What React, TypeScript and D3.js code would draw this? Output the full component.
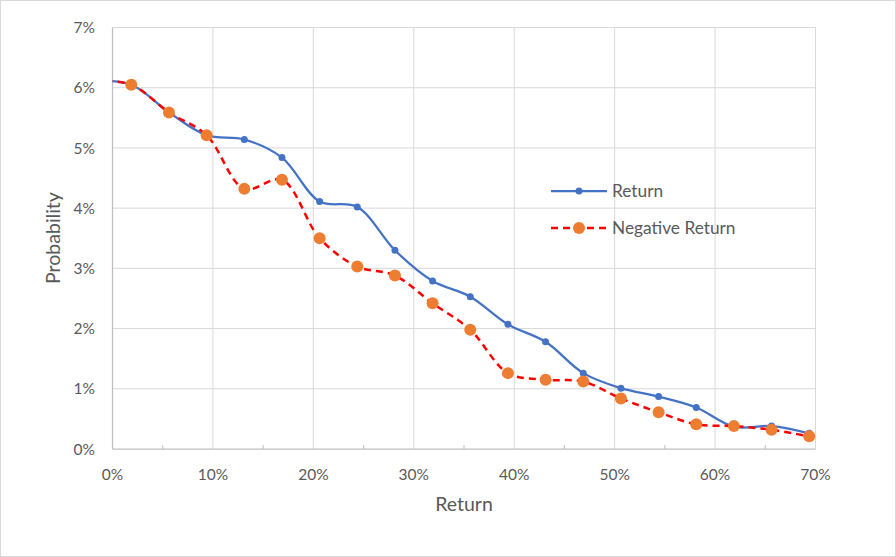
import React from "react";
import * as d3 from "d3";

const xValues = [-1.875, 1.875, 5.625, 9.375, 13.125, 16.875, 20.625, 24.375, 28.125, 31.875, 35.625, 39.375, 43.125, 46.875, 50.625, 54.375, 58.125, 61.875, 65.625, 69.375];
const returnValues = [6.12, 6.05, 5.59, 5.21, 5.14, 4.84, 4.11, 4.02, 3.30, 2.79, 2.53, 2.07, 1.78, 1.26, 1.01, 0.87, 0.69, 0.37, 0.38, 0.26];
const negReturnValues = [6.12, 6.05, 5.59, 5.21, 4.32, 4.47, 3.50, 3.03, 2.88, 2.42, 1.98, 1.26, 1.15, 1.12, 0.84, 0.61, 0.41, 0.38, 0.32, 0.21];
const xTicks = [0, 10, 20, 30, 40, 50, 60, 70];
const xMinorTicks = [5, 15, 25, 35, 45, 55, 65];
const yTicks = [0, 1, 2, 3, 4, 5, 6, 7];
const seriesNames = ["Return", "Negative Return"];

const W = 896, H = 557;
const M = { left: 112.5, right: 815.5, top: 27.5, bottom: 449 };
const FONT = "Lato, 'Open Sans', sans-serif";
const TXT = "#595959";

export default function App() {
  const x = d3.scaleLinear().domain([0, 70]).range([M.left, M.right]);
  const y = d3.scaleLinear().domain([0, 7]).range([M.bottom, M.top]);
  const line = d3.line<number>()
    .x((_, i) => x(xValues[i]))
    .y((d) => y(d))
    .curve(d3.curveCatmullRom.alpha(0.5));
  const pts = (vals: number[]) => vals.map((v, i) => ({ x: x(xValues[i]), y: y(v) })).filter((p, i) => xValues[i] >= 0);

  return (
    <svg width={W} height={H} style={{ position: "absolute", left: 0, top: 0 }}>
      <rect x={0.5} y={0.5} width={W - 1} height={H - 1} fill="#fff" stroke="#D9D9D9" />
      <defs>
        <clipPath id="plot">
          <rect x={M.left} y={M.top - 10} width={M.right - M.left + 10} height={M.bottom - M.top + 20} />
        </clipPath>
      </defs>
      {yTicks.slice(1).map((t) => (
        <line key={"hy" + t} x1={M.left} x2={M.right} y1={y(t)} y2={y(t)} stroke="#D9D9D9" strokeWidth={1} />
      ))}
      {xTicks.slice(1).map((t) => (
        <line key={"vx" + t} x1={x(t)} x2={x(t)} y1={M.top} y2={M.bottom} stroke="#D9D9D9" strokeWidth={1} />
      ))}
      <line x1={M.left} x2={M.left} y1={M.top} y2={M.bottom} stroke="#BFBFBF" strokeWidth={1.25} />
      <line x1={M.left} x2={M.right} y1={M.bottom} y2={M.bottom} stroke="#BFBFBF" strokeWidth={1.25} />
      {xMinorTicks.map((t) => (
        <line key={"mt" + t} x1={x(t)} x2={x(t)} y1={M.bottom} y2={M.bottom - 4} stroke="#BFBFBF" strokeWidth={1} />
      ))}
      {yTicks.map((t) => (
        <text key={"yl" + t} x={95} y={y(t)} dy="0.36em" textAnchor="end" fontFamily={FONT} fontSize={15.5} fill={TXT}>{t}%</text>
      ))}
      {xTicks.map((t) => (
        <text key={"xl" + t} x={x(t)} y={480} textAnchor="middle" fontFamily={FONT} fontSize={15.5} fill={TXT}>{t}%</text>
      ))}
      <text x={464} y={511} textAnchor="middle" fontFamily={FONT} fontSize={19.5} fill={TXT}>Return</text>
      <text transform={`translate(60,238) rotate(-90)`} textAnchor="middle" fontFamily={FONT} fontSize={19.5} fill={TXT}>Probability</text>
      <g clipPath="url(#plot)">
        <path d={line(returnValues) || ""} fill="none" stroke="#4472C4" strokeWidth={2.25} />
        {pts(returnValues).map((p, i) => (
          <circle key={"rb" + i} cx={p.x} cy={p.y} r={3.5} fill="#4472C4" />
        ))}
        <path d={line(negReturnValues) || ""} fill="none" stroke="#FF0000" strokeWidth={2.5} strokeDasharray="7,5" />
        {pts(negReturnValues).map((p, i) => (
          <circle key={"no" + i} cx={p.x} cy={p.y} r={6} fill="#ED7D31" />
        ))}
      </g>
      <g>
        <line x1={551} x2={607} y1={191} y2={191} stroke="#4472C4" strokeWidth={2.25} />
        <circle cx={579} cy={191} r={3.5} fill="#4472C4" />
        <text x={612} y={191} dy="0.36em" fontFamily={FONT} fontSize={17.3} fill={TXT}>{seriesNames[0]}</text>
        <line x1={551} x2={607} y1={228} y2={228} stroke="#FF0000" strokeWidth={2.5} strokeDasharray="7,5" />
        <circle cx={579} cy={228} r={6} fill="#ED7D31" />
        <text x={612} y={228} dy="0.36em" fontFamily={FONT} fontSize={17.3} fill={TXT}>{seriesNames[1]}</text>
      </g>
    </svg>
  );
}
